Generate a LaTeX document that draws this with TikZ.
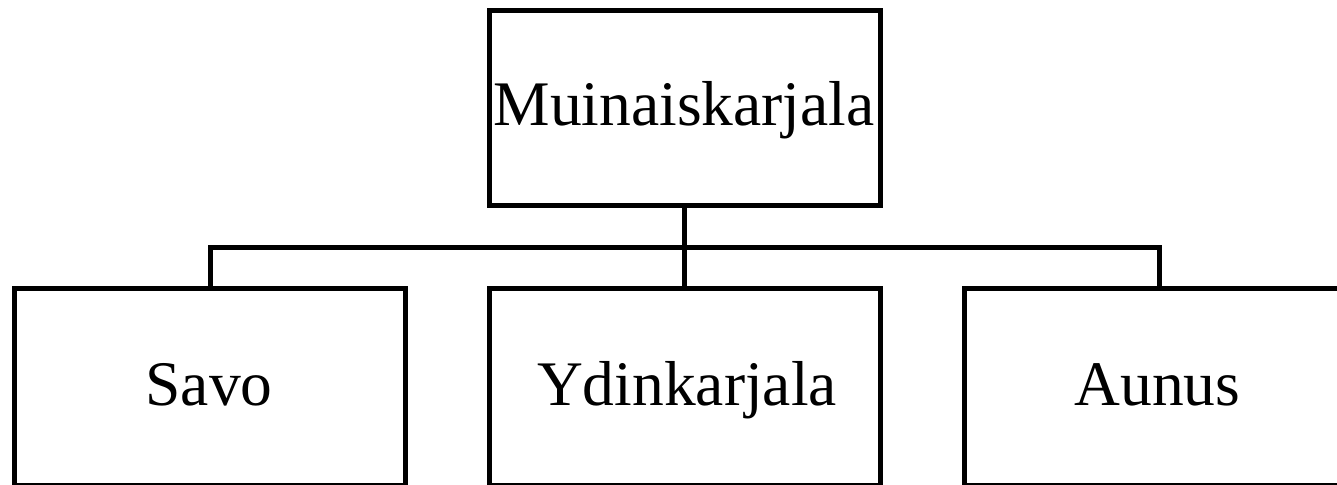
\documentclass[tikz,border=0pt]{standalone}
\usepackage{fontspec}
\setmainfont{Liberation Serif}
\begin{document}
\begin{tikzpicture}[x=1pt,y=-1pt,
  box/.style={draw=black,line width=5pt,rectangle,inner sep=0pt,outer sep=0pt,minimum width=391pt,minimum height=#1,line join=miter},
  box/.default=195pt,
  txt/.style={inner sep=0pt,anchor=base,font=\fontsize{63.5}{70}\selectfont},
  conn/.style={draw=black,line width=5pt,line join=miter}]
\useasboundingbox (0,0) rectangle (1337,484);
\node[box] (top) at (684.5,108) {};
\node[box=197pt] (savo) at (210.25,387) {};
\node[box=197pt] (ydin) at (684.5,387) {};
\node[box=197pt] (aunus) at (1159.5,387) {};
\node[txt] (ttop) at (684,125) {Muinaiskarjala};
\node[txt] (tsavo) at (209,405) {Savo};
\node[txt] (tydin) at (687,405) {Ydinkarjala};
\node[txt] (taunus) at (1157.5,405) {Aunus};
\coordinate (bus) at (684.5,247.5);
\draw[conn] (top.south) -- (ydin.north);
\draw[conn] (savo.north) |- (bus) -| (aunus.north);
\end{tikzpicture}
\end{document}
